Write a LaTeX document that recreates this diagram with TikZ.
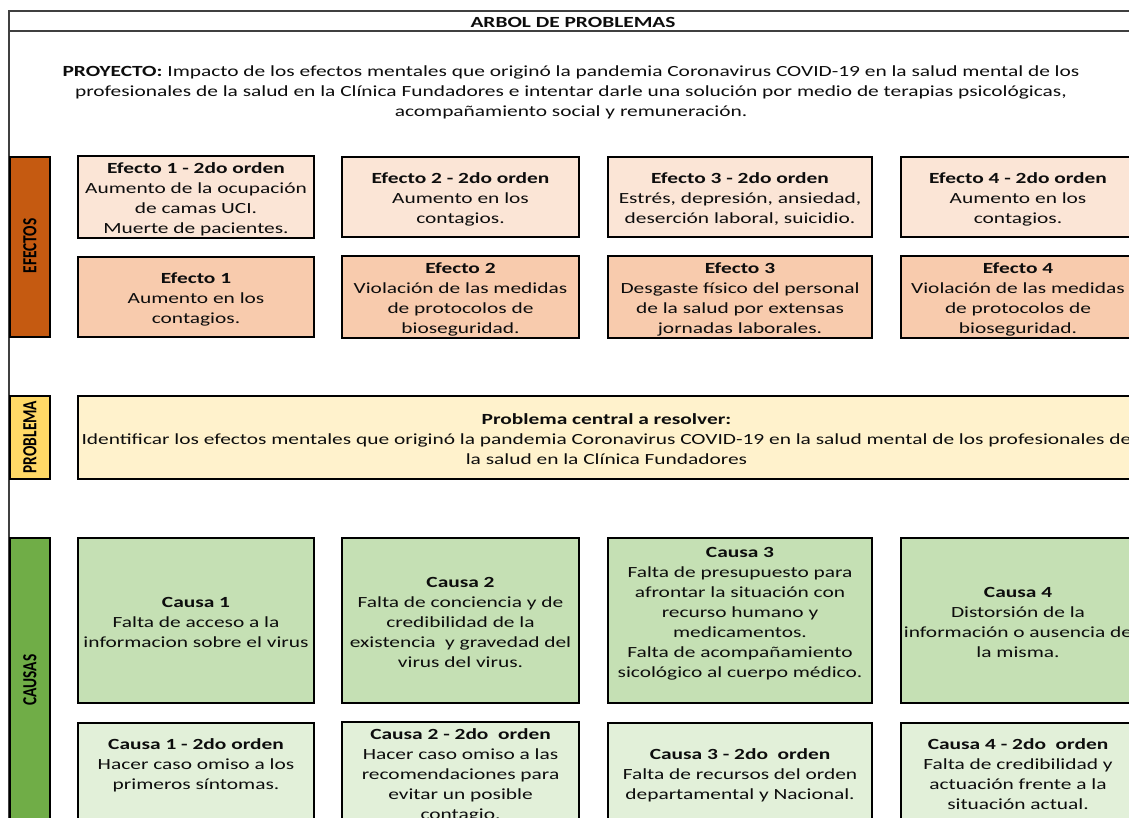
\documentclass[tikz,border=0pt]{standalone}
\usepackage{fontspec}
\setmainfont{Carlito}[FakeStretch=1.38]
\newfontfamily\sideFont{Carlito}[FakeStretch=0.77]
\newcommand\topStrut{\rule{0pt}{18pt}}
\newcommand\bottomStrut{\rule[-4pt]{0pt}{4pt}}
\newcommand\cabeza[1]{\topStrut\textbf{#1}}
\begin{document}
\begin{tikzpicture}[x=1pt,y=1pt,
  celda/.style={draw=black,line width=1.6pt,inner sep=0pt,outer sep=0pt,align=center,text=textColor,
    font=\fontsize{15.5}{20}\selectfont,execute at end node=\bottomStrut},
  efectoDos/.style={celda,fill=efectoDosColor,minimum height=80},
  efecto/.style={celda,fill=efectoColor,minimum height=80},
  problema/.style={celda,fill=problemaColor,minimum height=83},
  causa/.style={celda,fill=causaColor,minimum height=165},
  causaDos/.style={celda,fill=causaDosColor,minimum height=100},
  lado/.style={rotate=90,text=black,inner sep=0pt,font=\sideFont\bfseries\fontsize{20}{24}\selectfont}]
\definecolor{fillColor}{RGB}{255,255,255}
\definecolor{drawColor}{gray}{0.25}
\definecolor{textColor}{RGB}{13,13,13}
\definecolor{efectoDosColor}{RGB}{251,229,214}
\definecolor{efectoColor}{RGB}{248,203,173}
\definecolor{problemaColor}{RGB}{255,242,204}
\definecolor{causaColor}{RGB}{197,224,180}
\definecolor{causaDosColor}{RGB}{226,240,217}
\definecolor{ladoEfectos}{RGB}{197,90,17}
\definecolor{ladoProblema}{RGB}{255,217,102}
\definecolor{ladoCausas}{RGB}{112,173,71}
\path[use as bounding box,fill=fillColor] (0,0) rectangle (1129,818);
\begin{scope}
\path[clip] (0,0) rectangle (1129,818);

\path[draw=drawColor,line width=1.5pt] (9,-5) -- (9,807) -- (1140,807);
\path[draw=drawColor,line width=1.5pt] (9,787) -- (1140,787);

\node[text=textColor,inner sep=0pt,font=\bfseries\fontsize{15.5}{20}\selectfont] (titulo) at (573,796) {ARBOL DE PROBLEMAS};

\node[text=textColor,inner sep=0pt,align=center,font=\fontsize{15.5}{20}\selectfont,
  execute at end node=\bottomStrut] (proyecto) at (571,728)
  {\cabeza{PROYECTO:} Impacto de los efectos mentales que originó la pandemia Coronavirus COVID-19 en la salud mental de los\\
   profesionales de la salud en la Clínica Fundadores e intentar darle una solución por medio de terapias psicológicas,\\
   acompañamiento social y remuneración.};

\path[fill=ladoEfectos,draw=black,line width=1.2pt] (10,661) rectangle (50,481);
\path[fill=ladoProblema,draw=black,line width=1.2pt] (10,422) rectangle (50,339);
\path[fill=ladoCausas,draw=black,line width=1.2pt] (10,280) rectangle (50,-5);

\node[lado] (ladoEfectosTexto) at (30,572) {EFECTOS};
\node[lado] (ladoProblemaTexto) at (30,381) {PROBLEMA};
\node[lado] (ladoCausasTexto) at (30,138) {CAUSAS};

\node[efectoDos,minimum width=236] (efecto1Orden2) at (196,621)
  {\cabeza{Efecto 1 - 2do orden}\\Aumento de la ocupación\\de camas UCI.\\Muerte de pacientes.};
\node[efectoDos,minimum width=237] (efecto2Orden2) at (460.5,621)
  {\cabeza{Efecto 2 - 2do orden}\\Aumento en los\\contagios.};
\node[efectoDos,minimum width=264] (efecto3Orden2) at (740,621)
  {\cabeza{Efecto 3 - 2do orden}\\Estrés, depresión, ansiedad,\\deserción laboral, suicidio.};
\node[efectoDos,minimum width=234] (efecto4Orden2) at (1018,621)
  {\cabeza{Efecto 4 - 2do orden}\\Aumento en los\\contagios.};

\node[efecto,minimum width=236] (efecto1) at (196,521)
  {\cabeza{Efecto 1}\\Aumento en los\\contagios.};
\node[efecto,minimum width=237] (efecto2) at (460.5,521)
  {\cabeza{Efecto 2}\\Violación de las medidas\\de protocolos de\\bioseguridad.};
\node[efecto,minimum width=264] (efecto3) at (740,521)
  {\cabeza{Efecto 3}\\Desgaste físico del personal\\de la salud por extensas\\jornadas laborales.};
\node[efecto,minimum width=234] (efecto4) at (1018,521)
  {\cabeza{Efecto 4}\\Violación de las medidas\\de protocolos de\\bioseguridad.};

\node[problema,minimum width=1057] (problemaCentral) at (606.5,380.5)
  {\cabeza{Problema central a resolver:}\\Identificar los efectos mentales que originó la pandemia Coronavirus COVID-19 en la salud mental de los profesionales de\\la salud en la Clínica Fundadores};

\node[causa,minimum width=236] (causa1) at (196,197.5)
  {\cabeza{Causa 1}\\Falta de acceso a la\\informacion sobre el virus};
\node[causa,minimum width=237] (causa2) at (460.5,197.5)
  {\cabeza{Causa 2}\\Falta de conciencia y de\\credibilidad de la\\existencia\ \ y gravedad del\\virus del virus.};
\node[causa,minimum width=264] (causa3) at (740,197.5)
  {\cabeza{Causa 3}\\Falta de presupuesto para\\afrontar la situación con\\recurso humano y\\medicamentos.\\Falta de acompañamiento\\sicológico al cuerpo médico.\\\mbox{}};
\node[causa,minimum width=234] (causa4) at (1018,197.5)
  {\cabeza{Causa 4}\\Distorsión de la\\información o ausencia de\\la misma.};

\node[causaDos,minimum width=236] (causa1Orden2) at (196,45)
  {\cabeza{Causa 1 - 2do orden}\\Hacer caso omiso a los\\primeros síntomas.\\\mbox{}};
\node[causaDos,minimum width=237] (causa2Orden2) at (460.5,45)
  {\cabeza{Causa 2 - 2do\ \ orden}\\Hacer caso omiso a las\\recomendaciones para\\evitar un posible\\contagio.};
\node[causaDos,minimum width=264] (causa3Orden2) at (740,45)
  {\cabeza{Causa 3 - 2do\ \ orden}\\Falta de recursos del orden\\departamental y Nacional.};
\node[causaDos,minimum width=234] (causa4Orden2) at (1018,45)
  {\cabeza{Causa 4 - 2do\ \ orden}\\Falta de credibilidad y\\actuación frente a la\\situación actual.};
\end{scope}
\end{tikzpicture}
\end{document}
